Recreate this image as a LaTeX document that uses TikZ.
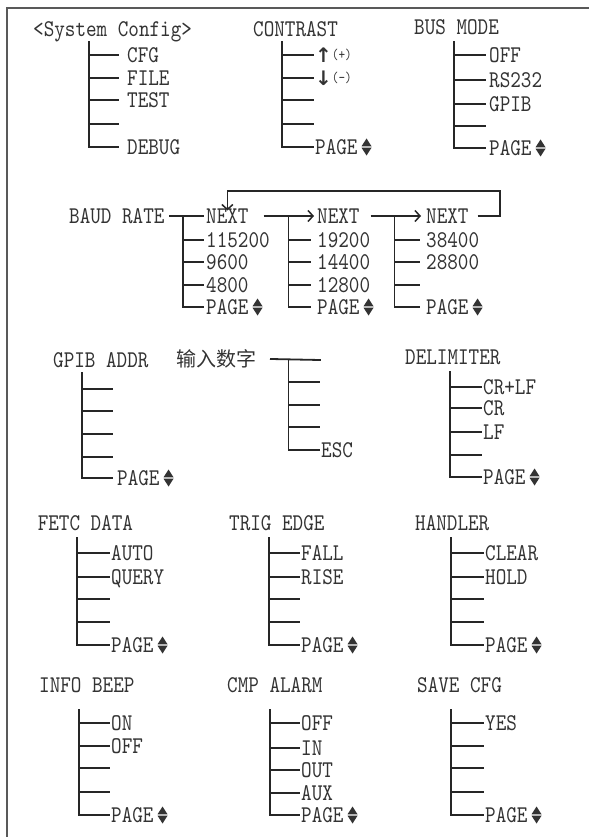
\documentclass[tikz,border=0pt]{standalone}
\usepackage{fontspec}
\usetikzlibrary{arrows.meta}
\newfontfamily\menufont{lmmono10-regular}[Extension=.otf, FakeStretch=0.84]
\newfontfamily\cjkfont{Noto Sans CJK SC}
\newfontfamily\symfont{DejaVu Sans}
\newcommand{\menusize}{\fontsize{24pt}{24pt}\selectfont}
% small up/down mark after PAGE
\newcommand{\pgmark}{\hspace{4pt}\tikz[baseline=0pt]{%
  \fill (0pt,8pt) -- (10pt,8pt) -- (5pt,15.8pt) -- cycle;
  \fill (0pt,6.6pt) -- (10pt,6.6pt) -- (5pt,-1.2pt) -- cycle;}}
\newcommand{\plusminus}[2]{{\symfont\bfseries\fontsize{20pt}{20pt}\selectfont #1}%
  \raisebox{2.5pt}{\menufont\fontsize{15pt}{15pt}\selectfont #2}}
% one menu: name, trunk x, branch end x, label x, list of y/label
\newcommand{\menutree}[5]{%
  \foreach \y/\t [count=\i] in {#5} {
    \coordinate (#1j\i) at (#2,\y);
    \coordinate (#1e\i) at (#3,\y);
    \node[item] (#1\i) at (#4,\y) {\t};
    \draw[tree] (#1j\i) -- (#1e\i);
  }}
\tikzset{
  item/.style={anchor=west, inner sep=0pt, text height=14.6pt, text depth=0pt,
    text=black!80, font=\menufont\menusize},
  tree/.style={line width=1.8pt, draw=black!85, line cap=rect},
  nextarrow/.style={line width=1.5pt, draw=black!85,
    -{Straight Barb[length=5pt,width=11pt]}},
  frame/.style={line width=1.8pt, draw=black!65}
}
\begin{document}
\begin{tikzpicture}[x=1pt,y=-1pt]
  \useasboundingbox (0,0) rectangle (589,837);
  \draw[frame] (7,837) -- (7,8) -- (589,8);

  % first row
  \node[item] (cfg) at (33,29) {<System Config>};
  \coordinate (cfgtop) at (89,42);
  \menutree{cfg}{89}{118}{127}{55/CFG,78/FILE,100/TEST,124/{},147/DEBUG}
  \draw[tree] (cfgtop) -- (cfgj5);

  \node[item] (con) at (253,29) {CONTRAST};
  \coordinate (contop) at (282,42);
  \menutree{con}{282}{313}{315}{55/\plusminus{↑}{(+)},78/\plusminus{↓}{(-)},100/{},124/{},147/PAGE\pgmark}
  \draw[tree] (contop) -- (conj5);

  \node[item] (bus) at (414,27) {BUS MODE};
  \coordinate (bustop) at (454,42);
  \menutree{bus}{454}{485}{489}{55/OFF,80/RS232,104/GPIB,126/{},148/PAGE\pgmark}
  \draw[tree] (bustop) -- (busj5);

  % baud rate row
  \node[item] (baud) at (69,216) {BAUD RATE};
  \menutree{ba}{183}{203}{206}{216/NEXT,240/115200,262/9600,285/4800,307/PAGE\pgmark}
  \draw[tree] ([xshift=5pt]baud.east) -- (baj1) -- (baj5);
  \menutree{bb}{288.5}{310}{317}{216/NEXT,240/19200,262/14400,285/12800,307/PAGE\pgmark}
  \draw[tree] (bbj1) -- (bbj5);
  \menutree{bc}{394.5}{419}{426}{216/NEXT,240/38400,262/28800,285/{},307/PAGE\pgmark}
  \draw[tree] (bcj1) -- (bcj5);
  \coordinate (bbtip) at (314,216);
  \coordinate (bctip) at (421,216);
  \coordinate (loopr) at (500,191);
  \draw[nextarrow] ([xshift=15pt]ba1.east) -- (bbtip);
  \draw[nextarrow] ([xshift=11pt]bb1.east) -- (bctip);
  \draw[nextarrow] ([xshift=9pt]bc1.east) -| (loopr) -| ([yshift=-2pt]ba1.north);

  % gpib row
  \node[item] (gpib) at (53,360) {GPIB ADDR};
  \coordinate (gpibtop) at (82,373);
  \menutree{gp}{82}{112}{117}{389/{},411/{},434/{},457/{},478/PAGE\pgmark}
  \draw[tree] (gpibtop) -- (gpj5);

  \node[item, font=\cjkfont\fontsize{20pt}{20pt}\selectfont] (num) at (176.5,359) {输入数字};
  \coordinate (numj0) at (288.5,360);
  \coordinate (nume0) at (320,360);
  \draw[tree] ([xshift=14pt]num.east) -- (nume0);
  \menutree{nu}{288.5}{319}{321}{382/{},405/{},427/{},450/ESC}
  \draw[tree] (numj0) -- (nuj4);

  \node[item] (del) at (405,357) {DELIMITER};
  \coordinate (deltop) at (450,372);
  \menutree{de}{450}{481}{483}{387/CR+LF,408/CR,432/LF,455/{},477/PAGE\pgmark}
  \draw[tree] (deltop) -- (dej5);

  % fetc row
  \node[item] (fetc) at (37.6,523) {FETC DATA};
  \coordinate (fetctop) at (77,538);
  \menutree{fe}{77}{109}{111}{553/AUTO,577/QUERY,599/{},622/{},645/PAGE\pgmark}
  \draw[tree] (fetctop) -- (fej5);

  \node[item] (trig) at (229,523) {TRIG EDGE};
  \coordinate (trigtop) at (268.6,538);
  \menutree{tr}{268.6}{299.4}{301}{553/FALL,577/RISE,599/{},622/{},645/PAGE\pgmark}
  \draw[tree] (trigtop) -- (trj5);

  \node[item] (hand) at (415,523) {HANDLER};
  \coordinate (handtop) at (451,538);
  \menutree{ha}{451}{483}{485}{553/CLEAR,577/HOLD,599/{},622/{},645/PAGE\pgmark}
  \draw[tree] (handtop) -- (haj5);

  % info row
  \node[item] (info) at (39,685) {INFO BEEP};
  \coordinate (infotop) at (79,710);
  \menutree{in}{79}{109}{111}{723/ON,746/OFF,768/{},792/{},815/PAGE\pgmark}
  \draw[tree] (infotop) -- (inj5);

  \node[item] (cmp) at (227,685) {CMP ALARM};
  \coordinate (cmptop) at (270,710);
  \menutree{cm}{270}{298.6}{301}{723/OFF,748/IN,770/OUT,793/AUX,815/PAGE\pgmark}
  \draw[tree] (cmptop) -- (cmj5);

  \node[item] (save) at (417,685) {SAVE CFG};
  \coordinate (savetop) at (451,710);
  \menutree{sa}{451}{483}{485}{723/YES,746/{},768/{},792/{},815/PAGE\pgmark}
  \draw[tree] (savetop) -- (saj5);
\end{tikzpicture}
\end{document}
